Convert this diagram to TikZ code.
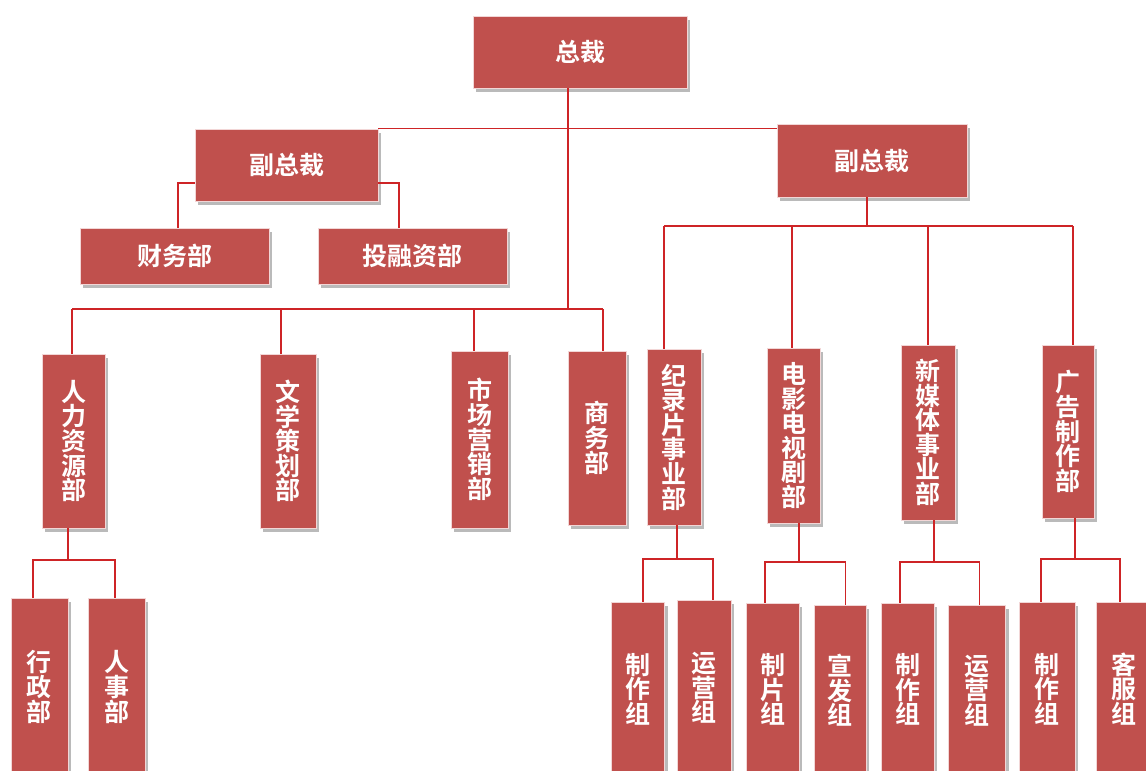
\documentclass[tikz,border=0pt]{standalone}
\usepackage{fontspec}
\newfontfamily\cjk{Noto Sans CJK SC}[BoldFont={* Bold}]
\usetikzlibrary{shadows}
\definecolor{boxred}{RGB}{192,80,77}
\definecolor{linered}{RGB}{206,36,38}
\definecolor{edgepink}{RGB}{242,214,214}
\tikzset{
  box/.style={fill=boxred, draw=edgepink, line width=0.9pt, inner sep=0pt,
    text=white, font=\cjk\bfseries\fontsize{25}{24.6}\selectfont, align=center,
    drop shadow={shadow xshift=3pt, shadow yshift=-3.5pt, fill=black!45, opacity=0.6}},
  conn/.style={draw=linered, line width=1.8pt}
}
\newcommand{\bx}[6]{\node[box, minimum width=#4pt, minimum height=#5pt] (#1) at (#2,#3) {#6};}
\begin{document}
\begin{tikzpicture}[x=1pt,y=-1pt]
\useasboundingbox (0,0) rectangle (1146,771);
% boxes
\bx{ceo}{580}{52}{214}{72}{总裁}
\bx{vp1}{286.5}{165}{183}{72}{副总裁}
\bx{vp2}{872}{160.5}{190}{73}{副总裁}
\bx{fin1}{174.5}{256}{189}{56}{财务部}
\bx{fin2}{412.5}{256}{189}{56}{投融资部}
\bx{d1}{73.5}{441}{63}{174}{人\\力\\资\\源\\部}
\bx{d2}{288}{441}{56}{174}{文\\学\\策\\划\\部}
\bx{d3}{479.5}{439.5}{57}{177}{市\\场\\营\\销\\部}
\bx{d4}{597}{438}{58}{174}{商\\务\\部}
\bx{e1}{674}{437}{54}{176}{纪\\录\\片\\事\\业\\部}
\bx{e2}{793.5}{435.5}{53}{175}{电\\影\\电\\视\\剧\\部}
\bx{e3}{928}{432.5}{54}{175}{新\\媒\\体\\事\\业\\部}
\bx{e4}{1068}{431.5}{52}{173}{广\\告\\制\\作\\部}
\bx{g1}{39.5}{687}{57}{178}{行\\政\\部}
\bx{g2}{116.5}{687}{57}{178}{人\\事\\部}
\bx{h1}{638}{689}{53}{174}{制\\作\\组}
\bx{h2}{704}{688}{54}{176}{运\\营\\组}
\bx{h3}{772.5}{689.5}{53}{173}{制\\片\\组}
\bx{h4}{840}{690.5}{52}{171}{宣\\发\\组}
\bx{h5}{907.5}{689.5}{53}{173}{制\\作\\组}
\bx{h6}{977}{690.5}{57}{171}{运\\营\\组}
\bx{h7}{1047}{689}{56}{174}{制\\作\\组}
\bx{h8}{1124}{689}{56}{174}{客\\服\\组}
% connectors: top
\coordinate (tr) at (568,309);
\draw[conn] (ceo.south -| tr) -- (tr);
\draw[conn] (vp1.north east) -- (vp1.north east -| vp2.west);
\coordinate (vl) at (178,183);
\coordinate (vr) at (399,183);
\draw[conn] (vp1.west |- vl) -| (vl |- fin1.north);
\draw[conn] (vp1.east |- vr) -| (vr |- fin2.north);
% left departments
\coordinate (b1) at (72,309);
\coordinate (b2) at (281,309);
\coordinate (b3) at (474,309);
\coordinate (b4) at (603,309);
\draw[conn] (b1) -- (b4);
\draw[conn] (b1) -- (b1 |- d1.north);
\draw[conn] (b2) -- (b2 |- d2.north);
\draw[conn] (b3) -- (b3 |- d3.north);
\draw[conn] (b4) -- (b4 |- d4.north);
% right departments
\coordinate (r0) at (867,226);
\coordinate (r1) at (664,226);
\coordinate (r2) at (792,226);
\coordinate (r3) at (928,226);
\coordinate (r4) at (1073,226);
\draw[conn] (vp2.south -| r0) -- (r0);
\draw[conn] (r1) -- (r4);
\draw[conn] (r1) -- (r1 |- e1.north);
\draw[conn] (r2) -- (r2 |- e2.north);
\draw[conn] (r3) -- (r3 |- e3.north);
\draw[conn] (r4) -- (r4 |- e4.north);
% sub groups
\coordinate (s1) at (68,560);
\coordinate (s1l) at (33,560);
\coordinate (s1r) at (115,560);
\draw[conn] (d1.south -| s1) -- (s1);
\draw[conn] (s1l |- g1.north) |- (s1r) -- (s1r |- g2.north);
\coordinate (s2) at (677,559);
\coordinate (s2l) at (643,559);
\coordinate (s2r) at (713,559);
\draw[conn] (e1.south -| s2) -- (s2);
\draw[conn] (s2l |- h1.north) |- (s2r) -- (s2r |- h2.north);
\coordinate (s3) at (799,562);
\coordinate (s3l) at (765,562);
\coordinate (s3r) at (845.5,562);
\draw[conn] (e2.south -| s3) -- (s3);
\draw[conn] (s3l |- h3.north) |- (s3r) -- (s3r |- h4.north);
\coordinate (s4) at (934,562);
\coordinate (s4l) at (900,562);
\coordinate (s4r) at (979.5,562);
\draw[conn] (e3.south -| s4) -- (s4);
\draw[conn] (s4l |- h5.north) |- (s4r) -- (s4r |- h6.north);
\coordinate (s5) at (1075,559);
\coordinate (s5l) at (1041,559);
\coordinate (s5r) at (1120,559);
\draw[conn] (e4.south -| s5) -- (s5);
\draw[conn] (s5l |- h7.north) |- (s5r) -- (s5r |- h8.north);
\end{tikzpicture}
\end{document}
